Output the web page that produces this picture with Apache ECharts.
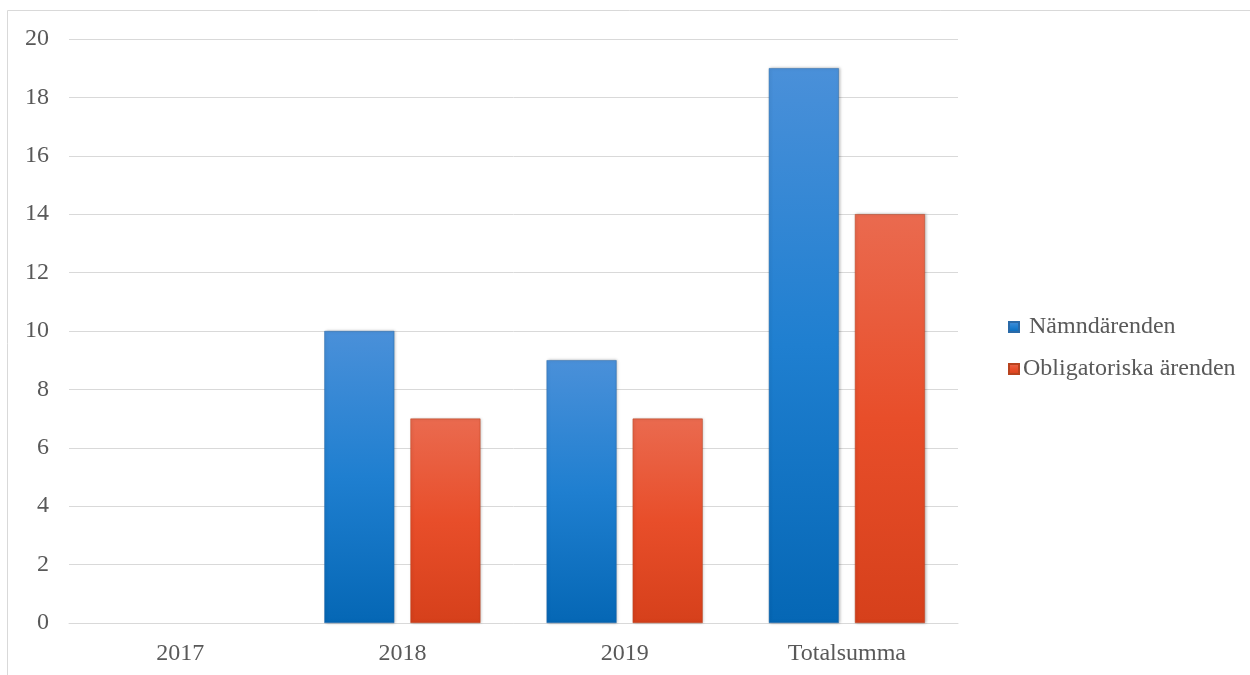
<!DOCTYPE html>
<html><head><meta charset="utf-8">
<script src="https://cdn.jsdelivr.net/npm/echarts@6/dist/echarts.min.js"></script>
<style>html,body{margin:0;padding:0;background:#fff}#c{width:1250px;height:675px}</style>
</head><body><div id="c"></div>
<script>
const categories = ['2017', '2018', '2019', 'Totalsumma'];
const seriesNames = [' Nämndärenden', 'Obligatoriska ärenden'];
const namnd = [null, 10, 9, 19];
const oblig = [null, 7, 7, 14];
const yTicks = [0, 2, 4, 6, 8, 10, 12, 14, 16, 18, 20];

const chart = echarts.init(document.getElementById('c'));
const font = '"Liberation Serif", "Times New Roman", serif';
function grad(top, mid, bot) {
  return new echarts.graphic.LinearGradient(0, 0, 0, 1, [
    {offset: 0, color: top}, {offset: 0.5, color: mid}, {offset: 1, color: bot}
  ]);
}
chart.setOption({
  animation: false,
  graphic: [{
    type: 'rect', shape: {x: 7.5, y: 10.5, width: 1260, height: 700},
    style: {fill: 'none', stroke: '#d9d9d9', lineWidth: 1}, silent: true, z: -1
  }],
  grid: {left: 69, right: 292, top: 39, bottom: 52, containLabel: false},
  legend: {
    orient: 'vertical', left: 1003, top: 310, itemGap: 18,
    itemWidth: 10, itemHeight: 10, icon: 'rect',
    textStyle: {fontFamily: font, fontSize: 24, color: '#595959', padding: [0, 0, 0, -1]},
    data: seriesNames
  },
  xAxis: {
    type: 'category', data: categories,
    axisLine: {show: true, lineStyle: {color: '#d9d9d9'}},
    axisTick: {show: false},
    axisLabel: {fontFamily: font, fontSize: 24, color: '#595959', margin: 19}
  },
  yAxis: {
    type: 'value', min: 0, max: 20, interval: 2,
    axisLine: {show: false}, axisTick: {show: false},
    splitLine: {lineStyle: {color: '#d9d9d9', width: 1}},
    axisLabel: {fontFamily: font, fontSize: 24, color: '#595959', margin: 20,
      formatter: v => yTicks.includes(v) ? String(v) : ''}
  },
  series: [{
    name: seriesNames[0], type: 'bar', data: namnd, barWidth: 70, barGap: '23%',
    itemStyle: {color: grad('#4a90d9', '#1f7fd0', '#0567b5'), borderColor: '#2a6aa8', borderWidth: 0.5,
      shadowColor: 'rgba(0,0,0,0.25)', shadowBlur: 3, shadowOffsetX: 1}
  }, {
    name: seriesNames[1], type: 'bar', data: oblig, barWidth: 70,
    itemStyle: {color: grad('#ea6a4f', '#e84e2a', '#d6401b'), borderColor: '#b8431f', borderWidth: 0.5,
      shadowColor: 'rgba(0,0,0,0.25)', shadowBlur: 3, shadowOffsetX: 1}
  }]
});
</script></body></html>
